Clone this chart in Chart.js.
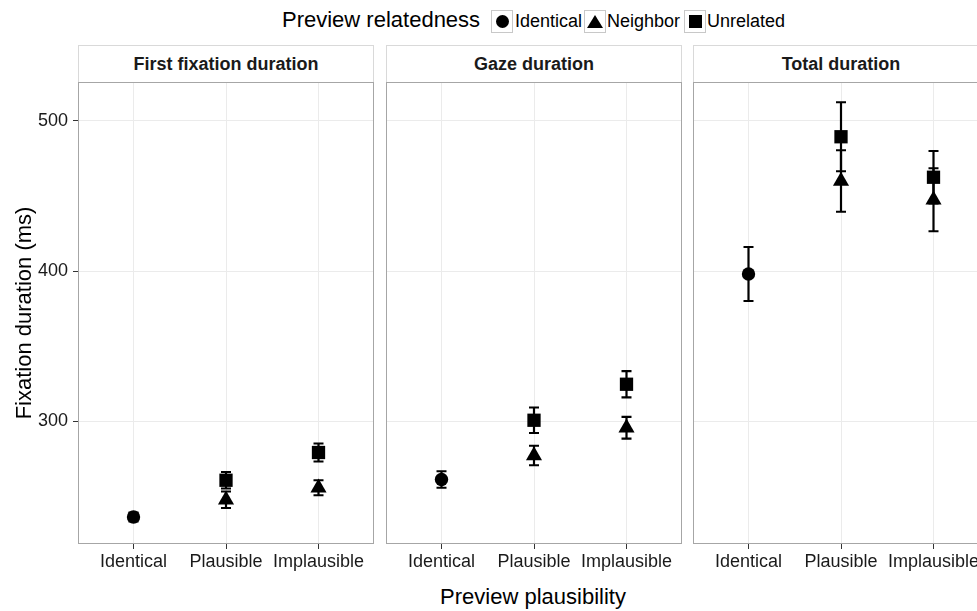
<!DOCTYPE html>
<html>
<head>
<meta charset="utf-8">
<script src="https://cdn.jsdelivr.net/npm/chart.js@4"></script>
<style>
  html, body { margin: 0; padding: 0; background: #fff; }
  body { width: 977px; height: 611px; overflow: hidden; position: relative; font-family: "Liberation Sans", Arial, sans-serif; color: #000; }
  .abs { position: absolute; }
  .strip { position: absolute; top: 45px; height: 36px; width: 294px; border: 1px solid #d9d9d9; border-bottom: none; background: #fff;
           font-weight: bold; font-size: 18px; line-height: 36px; text-align: center; color: #1a1a1a; }
  .panel { position: absolute; top: 82px; height: 502px; width: 297px; }
  .key { position: absolute; top: 10px; width: 20px; height: 21px; border: 1px solid #c8c8c8; background: #fff; }
  .lbl { position: absolute; top: 10px; font-size: 18px; line-height: 22px; color: #000; white-space: nowrap; }
</style>
</head>
<body>
<div class="abs" style="left:282px;top:7px;font-size:22px;line-height:26px;white-space:nowrap;">Preview relatedness</div>
<div class="key" style="left:491px;"><div class="abs" style="left:3.5px;top:4px;width:13px;height:13px;border-radius:50%;background:#000;"></div></div>
<div class="lbl" style="left:515px;">Identical</div>
<div class="key" style="left:584px;"><div class="abs" style="left:2px;top:3.5px;width:0;height:0;border-left:8px solid transparent;border-right:8px solid transparent;border-bottom:13px solid #000;"></div></div>
<div class="lbl" style="left:607px;">Neighbor</div>
<div class="key" style="left:684px;"><div class="abs" style="left:3.5px;top:4px;width:13px;height:13px;background:#000;"></div></div>
<div class="lbl" style="left:707px;">Unrelated</div>

<div class="strip" style="left:78px;">First fixation duration</div>
<div class="strip" style="left:386px;">Gaze duration</div>
<div class="strip" style="left:693px;">Total duration</div>

<div class="panel" style="left:0px;width:375px;"><canvas id="p0"></canvas></div>
<div class="panel" style="left:386px;"><canvas id="p1"></canvas></div>
<div class="panel" style="left:693px;"><canvas id="p2"></canvas></div>

<div class="abs" style="left:380px;width:306px;top:584px;font-size:22px;line-height:26px;text-align:center;white-space:nowrap;">Preview plausibility</div>

<script>
// ---- data ----
const panelTitles = ["First fixation duration", "Gaze duration", "Total duration"];
const categories = ["Identical", "Plausible", "Implausible"];
const yTicks = [300, 400, 500];

// per panel: [first fixation, gaze, total]
const identicalMean = [236, 261, 398];
const identicalErr  = [3, 5.5, 18];

const neighborPlausibleMean   = [247.5, 277, 460];
const neighborPlausibleErr    = [5.5, 6.5, 20.5];
const neighborImplausibleMean = [255.5, 295.5, 447.5];
const neighborImplausibleErr  = [5, 7.3, 21];

const unrelatedPlausibleMean   = [260.5, 300.5, 489.5];
const unrelatedPlausibleErr    = [5.5, 8.5, 23];
const unrelatedImplausibleMean = [279, 324.5, 462.5];
const unrelatedImplausibleErr  = [6, 8.7, 17.5];

// ---- plugins ----
const errorBarPlugin = {
  id: 'errorBars',
  beforeDatasetsDraw(chart) {
    const ctx = chart.ctx;
    const yScale = chart.scales.y;
    ctx.save();
    ctx.strokeStyle = '#000';
    ctx.lineWidth = 2.2;
    chart.data.datasets.forEach((ds, di) => {
      const meta = chart.getDatasetMeta(di);
      meta.data.forEach((pt, j) => {
        const v = ds.data[j].y, e = ds.errors[j];
        const x = pt.x;
        const yTop = yScale.getPixelForValue(v + e);
        const yBot = yScale.getPixelForValue(v - e);
        ctx.beginPath();
        ctx.moveTo(x, yTop); ctx.lineTo(x, yBot);
        ctx.moveTo(x - 5, yTop); ctx.lineTo(x + 5, yTop);
        ctx.moveTo(x - 5, yBot); ctx.lineTo(x + 5, yBot);
        ctx.stroke();
      });
    });
    ctx.restore();
  }
};

const panelBorderPlugin = {
  id: 'panelBorder',
  afterDraw(chart) {
    const a = chart.chartArea, ctx = chart.ctx;
    ctx.save();
    ctx.strokeStyle = '#a6a6a6';
    ctx.lineWidth = 1;
    ctx.strokeRect(Math.round(a.left) + 0.5, Math.round(a.top) + 0.5,
                   Math.round(a.right - a.left) - 1, Math.round(a.bottom - a.top) - 1);
    ctx.restore();
  }
};

function makePanel(i, id, showY) {
  const datasets = [
    { label: 'Identical', pointStyle: 'circle', pointRadius: 6.7,
      data: [{ x: 1, y: identicalMean[i] }], errors: [identicalErr[i]] },
    { label: 'Neighbor', pointStyle: 'triangle', pointRadius: 9.3,
      data: [{ x: 2, y: neighborPlausibleMean[i] }, { x: 3, y: neighborImplausibleMean[i] }],
      errors: [neighborPlausibleErr[i], neighborImplausibleErr[i]] },
    { label: 'Unrelated', pointStyle: 'rect', pointRadius: 9.4,
      data: [{ x: 2, y: unrelatedPlausibleMean[i] }, { x: 3, y: unrelatedImplausibleMean[i] }],
      errors: [unrelatedPlausibleErr[i], unrelatedImplausibleErr[i]] }
  ].map(d => Object.assign(d, { backgroundColor: '#000', borderColor: '#000', borderWidth: 0, showLine: false, pointHoverRadius: d.pointRadius }));

  return new Chart(document.getElementById(id), {
    type: 'scatter',
    data: { datasets },
    options: {
      responsive: true, maintainAspectRatio: false, animation: false,
      layout: { autoPadding: false, padding: { top: 0, left: 0, right: 1, bottom: 0 } },
      plugins: { legend: { display: false }, tooltip: { enabled: false }, title: { display: false } },
      scales: {
        x: {
          type: 'linear', min: 0.4, max: 3.6,
          afterBuildTicks: s => { s.ticks = [1, 2, 3].map(v => ({ value: v })); },
          afterFit: s => { s.height = 40; s.paddingLeft = 0; s.paddingRight = 0; },
          ticks: { autoSkip: false, maxRotation: 0, padding: 2, color: '#1a1a1a',
                   font: { family: 'Liberation Sans', size: 18 },
                   callback: v => categories[Math.round(v) - 1] },
          grid: { color: '#ebebeb', lineWidth: 1, drawTicks: true, tickLength: 5, tickColor: '#333', tickWidth: 1 },
          border: { display: false }
        },
        y: {
          type: 'linear', min: 218, max: 526,
          afterBuildTicks: s => { s.ticks = yTicks.map(v => ({ value: v })); },
          afterFit: s => { s.width = showY ? 78 : 0; s.paddingTop = 0; s.paddingBottom = 0; },
          ticks: { display: showY, padding: 5, color: '#1a1a1a', font: { family: 'Liberation Sans', size: 18 } },
          grid: { color: '#ebebeb', lineWidth: 1, drawTicks: showY, tickLength: 5, tickColor: '#333', tickWidth: 1 },
          border: { display: false },
          title: { display: showY, text: 'Fixation duration (ms)', color: '#000', padding: { top: 12, bottom: 0 },
                   font: { family: 'Liberation Sans', size: 22 } }
        }
      }
    },
    plugins: [errorBarPlugin, panelBorderPlugin]
  });
}

makePanel(0, 'p0', true);
makePanel(1, 'p1', false);
makePanel(2, 'p2', false);
</script>
</body>
</html>
